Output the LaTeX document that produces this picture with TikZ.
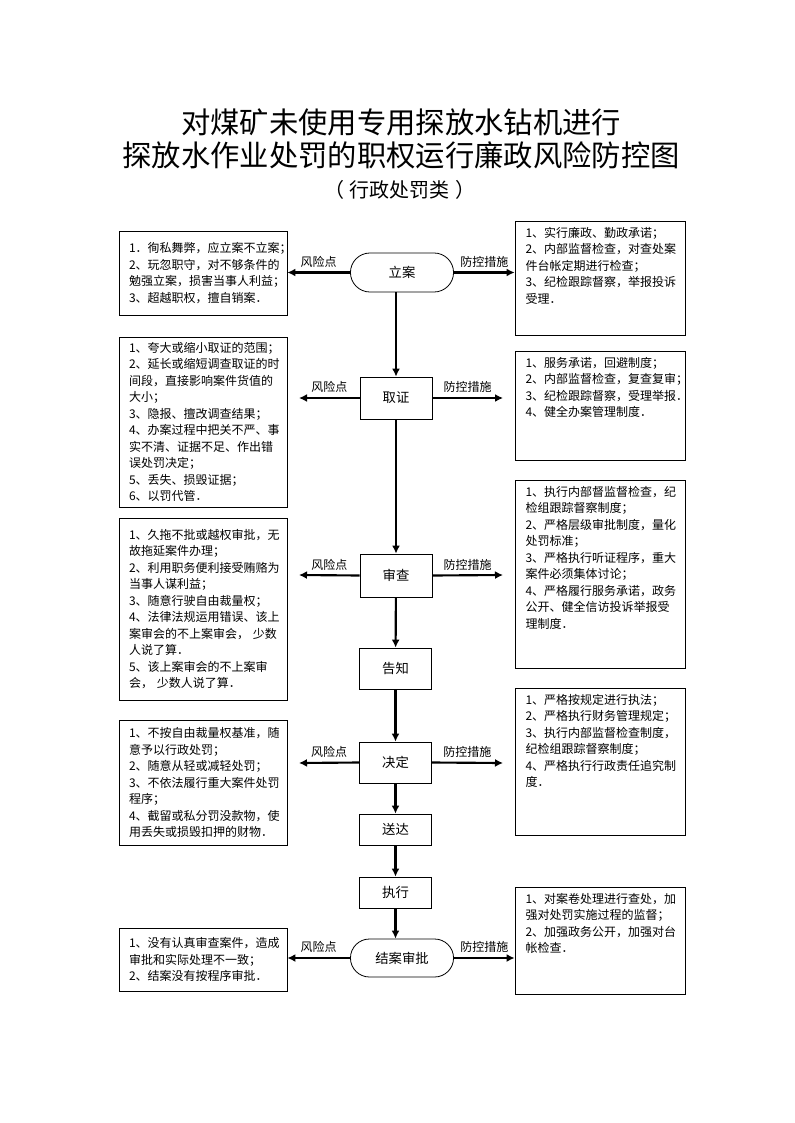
\documentclass[tikz,border=0pt]{standalone}
\usepackage{fontspec}
\setmainfont{Noto Sans CJK SC}
\usetikzlibrary{arrows.meta,shapes.misc}
\begin{document}
\begin{tikzpicture}[x=0.75pt,y=-0.75pt,
    stage/.style={draw, line width=0.6pt, minimum width=54pt, font=\fontsize{10pt}{12pt}\selectfont},
    endstage/.style={stage, rounded rectangle, minimum width=84pt},
    riskbox/.style={draw, line width=0.6pt, minimum width=126pt, text width=111pt, inner xsep=7.5pt, align=left, font=\fontsize{9pt}{12.4pt}\selectfont},
    ctrlbox/.style={draw, line width=0.6pt, minimum width=127.5pt},
    ctrltext/.style={anchor=north west, inner sep=0pt, text width=116pt, align=left, font=\fontsize{9pt}{12.4pt}\selectfont},
    flow/.style={line width=1.6pt, -{Latex[length=6pt,width=6pt]}},
    tag/.style={font=\fontsize{9pt}{10pt}\selectfont, inner sep=0.5pt, above=2.5pt}]
    \useasboundingbox (0,0) rectangle (794,1123);
    \node (title1) at (401,122) {\fontsize{22pt}{26pt}\selectfont 对煤矿未使用专用探放水钻机进行};
    \node (title2) at (401,155) {\fontsize{22pt}{26pt}\selectfont 探放水作业处罚的职权运行廉政风险防控图};
    \node (title3) at (400,190) {\fontsize{15pt}{18pt}\selectfont （\hspace{4pt}行政处罚类\hspace{4pt}）};
    \node[endstage, minimum height=29.25pt] (lian) at (402,272.5) {立案};
    \node[stage, minimum height=31.5pt] (quzheng) at (396,398) {取证};
    \node[stage, minimum height=32.25pt] (shencha) at (396,575.5) {审查};
    \node[stage, minimum height=30.75pt] (gaozhi) at (395.5,668.5) {告知};
    \node[stage, minimum height=30.75pt] (jueding) at (395.5,762.5) {决定};
    \node[stage, minimum height=23.25pt] (songda) at (395.5,829.5) {送达};
    \node[stage, minimum height=23.25pt] (zhixing) at (395.5,892.5) {执行};
    \node[endstage, minimum height=28.5pt] (jiean) at (402,958) {结案审批};
    \node[riskbox, minimum height=63pt] (risk1) at (203,273) {1．徇私舞弊，应立案不立案；\\2、玩忽职守，对不够条件的\\勉强立案，损害当事人利益；\\3、超越职权，擅自销案．};
    \node[riskbox, minimum height=127.5pt] (risk2) at (203,422) {1、夸大或缩小取证的范围；\\2、延长或缩短调查取证的时\\间段，直接影响案件货值的\\大小；\\3、隐报、擅改调查结果；\\4、办案过程中把关不严、事\\实不清、证据不足、作出错\\误处罚决定；\\5、丢失、损毁证据；\\6、以罚代管．};
    \node[riskbox, minimum height=136.5pt] (risk3) at (203,609) {1、久拖不批或越权审批，无\\故拖延案件办理；\\2、利用职务便利接受贿赂为\\当事人谋利益；\\3、随意行驶自由裁量权；\\4、法律法规运用错误、该上\\案审会的不上案审会，\ 少数\\人说了算．\\5、该上案审会的不上案审\\会，\ 少数人说了算．};
    \node[riskbox, minimum height=93.75pt] (risk4) at (203,782.5) {1、不按自由裁量权基准，随\\意予以行政处罚；\\2、随意从轻或减轻处罚；\\3、不依法履行重大案件处罚\\程序；\\4、截留或私分罚没款物，使\\用丢失或损毁扣押的财物．};
    \node[riskbox, minimum height=47.25pt] (risk5) at (203,959.5) {1、没有认真审查案件，造成\\审批和实际处理不一致；\\2、结案没有按程序审批．};
    \node[ctrlbox, minimum height=85.5pt] (ctrl1) at (600,278) {};
    \node[ctrlbox, minimum height=81.75pt] (ctrl2) at (600,405.5) {};
    \node[ctrlbox, minimum height=141pt] (ctrl3) at (600,574) {};
    \node[ctrlbox, minimum height=110.25pt] (ctrl4) at (600,761.5) {};
    \node[ctrlbox, minimum height=80.25pt] (ctrl5) at (600,940.5) {};
    \node[ctrltext] (ctrl1txt) at ([xshift=8pt,yshift=-4.5pt]ctrl1.north west) {1、实行廉政、勤政承诺；\\2、内部监督检查，对查处案\\件台帐定期进行检查；\\3、纪检跟踪督察，举报投诉\\受理．};
    \node[ctrltext] (ctrl2txt) at ([xshift=8pt,yshift=-4.5pt]ctrl2.north west) {1、服务承诺，回避制度；\\2、内部监督检查，复查复审；\\3、纪检跟踪督察，受理举报．\\4、健全办案管理制度．};
    \node[ctrltext] (ctrl3txt) at ([xshift=8pt,yshift=-4.5pt]ctrl3.north west) {1、执行内部督监督检查，纪\\检组跟踪督察制度；\\2、严格层级审批制度，量化\\处罚标准；\\3、严格执行听证程序，重大\\案件必须集体讨论；\\4、严格履行服务承诺，政务\\公开、健全信访投诉举报受\\理制度．};
    \node[ctrltext] (ctrl4txt) at ([xshift=8pt,yshift=-4.5pt]ctrl4.north west) {1、严格按规定进行执法；\\2、严格执行财务管理规定；\\3、执行内部监督检查制度，\\纪检组跟踪督察制度；\\4、严格执行行政责任追究制\\度．};
    \node[ctrltext] (ctrl5txt) at ([xshift=8pt,yshift=-4.5pt]ctrl5.north west) {1、对案卷处理进行查处，加\\强对处罚实施过程的监督；\\2、加强政务公开，加强对台\\帐检查．};
    \coordinate (riskend2) at (299,398);
    \coordinate (ctrlend2) at (503,398);
    \coordinate (riskend3) at (299,575);
    \coordinate (ctrlend3) at (503,575);
    \coordinate (riskend4) at (299,763);
    \coordinate (ctrlend4) at (503,763);
    \draw[flow] (lian.south -| quzheng.north) -- (quzheng.north);
    \draw[flow] (quzheng) -- (shencha);
    \draw[flow] (shencha) -- (gaozhi);
    \draw[flow] (gaozhi) -- (jueding);
    \draw[flow] (jueding) -- (songda);
    \draw[flow] (songda) -- (zhixing);
    \draw[flow] (zhixing.south) -- (jiean.north -| zhixing.south);
    \draw[flow] (lian.west) -- (lian.west -| risk1.east) node[tag, midway] (tagrisk1) {风险点};
    \draw[flow] (lian.east) -- (lian.east -| ctrl1.west) node[tag, midway] (tagctrl1) {防控措施};
    \draw[flow] (quzheng.west) -- (riskend2) node[tag, midway] (tagrisk2) {风险点};
    \draw[flow] (quzheng.east) -- (ctrlend2) node[tag, midway] (tagctrl2) {防控措施};
    \draw[flow] (shencha.west) -- (riskend3) node[tag, midway] (tagrisk3) {风险点};
    \draw[flow] (shencha.east) -- (ctrlend3) node[tag, midway] (tagctrl3) {防控措施};
    \draw[flow] (jueding.west) -- (riskend4) node[tag, midway] (tagrisk4) {风险点};
    \draw[flow] (jueding.east) -- (ctrlend4) node[tag, midway] (tagctrl4) {防控措施};
    \draw[flow] (jiean.west) -- (jiean.west -| risk5.east) node[tag, midway] (tagrisk5) {风险点};
    \draw[flow] (jiean.east) -- (jiean.east -| ctrl5.west) node[tag, midway] (tagctrl5) {防控措施};
\end{tikzpicture}
\end{document}
